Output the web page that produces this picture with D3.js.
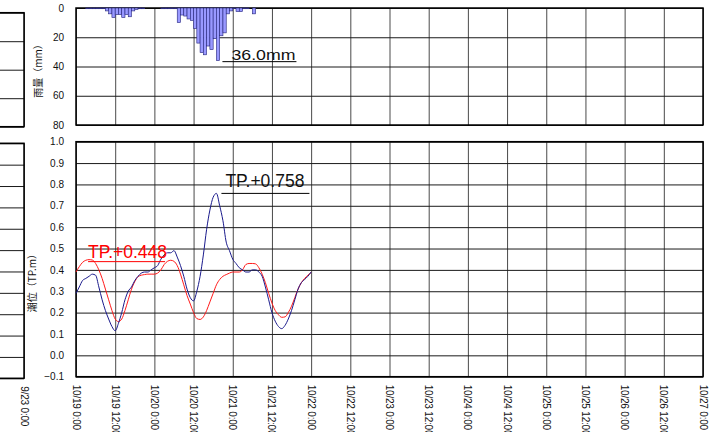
<!DOCTYPE html>
<html>
<head>
<meta charset="utf-8">
<script src="https://cdn.jsdelivr.net/npm/d3@7"></script>
<style>
  body { margin: 0; background: #fff; }
  text { font-family: "Liberation Sans", Arial, sans-serif; fill: #111; }
  .jp { font-family: "Noto Sans CJK JP", sans-serif; }
</style>
</head>
<body>
<div id="chart"></div>
<script>
// period shown on the main chart, hourly data from 10/19 0:00
var startTime = new Date(2021, 9, 19, 0);
var endTime = new Date(2021, 9, 27, 0);

// hourly rainfall (mm), hour 0 = 10/19 0:00
var rainMm = [0, 0, 0, 0.5, 0.5, 0.5, 0.5, 0.5, 0.5,
  2, 4, 6.5, 4.5, 4.5, 6.5, 4.5, 6, 2, 1, 0.5, 0.5,
  0, 0, 0, 0, 0,
  0.5, 0.5, 0.5, 0.5, 0.5,
  10, 4.8, 5.5, 7.5, 8.5, 14, 24, 30.5, 32, 26, 28.5, 21, 36, 19, 17, 4, 2,
  0.5, 2.5, 2.5, 0.5, 0.5, 0, 4];

// observed tide level (TP.m), hourly
var tideObserved = [0.29, 0.32, 0.35, 0.36, 0.37, 0.38, 0.375, 0.32, 0.26, 0.21,
  0.17, 0.135, 0.115, 0.15, 0.2, 0.26, 0.3, 0.32, 0.35, 0.37,
  0.385, 0.39, 0.39, 0.40, 0.41, 0.42, 0.45, 0.47, 0.48, 0.48,
  0.49, 0.46, 0.42, 0.37, 0.31, 0.27, 0.255, 0.30, 0.37, 0.47,
  0.59, 0.68, 0.74, 0.758, 0.70, 0.63, 0.53, 0.49, 0.45, 0.43,
  0.41, 0.40, 0.39, 0.39, 0.40, 0.40, 0.39, 0.37, 0.32, 0.26,
  0.20, 0.16, 0.135, 0.125, 0.14, 0.17, 0.21, 0.26, 0.31, 0.34,
  0.355, 0.37, 0.39];

// astronomical (predicted) tide level (TP.m), hourly
var tidePredicted = [0.39, 0.415, 0.435, 0.445, 0.448, 0.446, 0.43, 0.40, 0.36, 0.31,
  0.26, 0.21, 0.17, 0.158, 0.17, 0.21, 0.26, 0.31, 0.345, 0.368,
  0.375, 0.378, 0.38, 0.38, 0.38, 0.385, 0.40, 0.425, 0.44, 0.445,
  0.44, 0.42, 0.38, 0.33, 0.28, 0.24, 0.20, 0.172, 0.168, 0.18,
  0.21, 0.25, 0.29, 0.33, 0.355, 0.37, 0.378, 0.385, 0.39, 0.39,
  0.39, 0.40, 0.425, 0.43, 0.43, 0.428, 0.41, 0.38, 0.34, 0.29,
  0.245, 0.21, 0.19, 0.178, 0.18, 0.20, 0.23, 0.27, 0.31, 0.34,
  0.36, 0.375, 0.388];

var rainTicks = [0, 20, 40, 60, 80];
var tideTicks = [-0.1, 0, 0.1, 0.2, 0.3, 0.4, 0.5, 0.6, 0.7, 0.8, 0.9, 1.0];

var svgWidth = 716;
var svgHeight = 432;

var svg = d3.select("#chart")
  .append("svg")
  .attr("width", svgWidth)
  .attr("height", svgHeight);

var hourTime = function(i) { return d3.timeHour.offset(startTime, i); };
var fmtTick = d3.timeFormat("%-m/%-d %-H:%M");

// draw the grid, frame and axis labels of one chart
function drawFrame(box, period) {
  var x = d3.scaleTime().domain(period).range([box.left, box.right]);
  var yRain = d3.scaleLinear().domain([0, 80]).range([box.rainTop, box.rainBottom]);
  var yTide = d3.scaleLinear().domain([-0.1, 1.0]).range([box.tideBottom, box.tideTop]);
  var xTicks = d3.timeHour.every(12).range(period[0], d3.timeMinute.offset(period[1], 1));
  var w = box.right - box.left;

  [[box.rainTop, box.rainBottom], [box.tideTop, box.tideBottom]].forEach(function(p) {
    svg.append("g")
      .attr("transform", `translate(0, ${p[1]})`)
      .call(d3.axisBottom(x).tickValues(xTicks).tickSize(-(p[1] - p[0])).tickFormat(""))
      .call(g => g.select(".domain").remove())
      .call(g => g.selectAll("line").attr("stroke", "#4a4a4a"));
  });

  // value labels only where the chart's left side is in view
  var fmtRain = box.left > 0 ? d3.format("d") : () => "";
  var fmtTide = box.left > 0 ? d3.format(".1f") : () => "";

  svg.append("g")
    .attr("transform", `translate(${box.left}, 0)`)
    .call(d3.axisLeft(yRain).tickValues(rainTicks).tickSize(-w).tickPadding(12).tickFormat(fmtRain))
    .call(g => g.select(".domain").remove())
    .call(g => g.selectAll("line").attr("stroke", "#1a1a1a"))
    .call(g => g.selectAll("text").attr("font-size", 10).attr("fill", "#111")
      .style("font-family", "'Liberation Sans', Arial, sans-serif"));

  svg.append("g")
    .attr("transform", `translate(${box.left}, 0)`)
    .call(d3.axisLeft(yTide).tickValues(tideTicks).tickSize(-w).tickPadding(12).tickFormat(fmtTide))
    .call(g => g.select(".domain").remove())
    .call(g => g.selectAll("line").attr("stroke", "#1a1a1a"))
    .call(g => g.selectAll("text").attr("font-size", 10).attr("fill", "#111")
      .style("font-family", "'Liberation Sans', Arial, sans-serif"));

  // frames
  svg.append("rect")
    .attr("x", box.left).attr("y", box.rainTop)
    .attr("width", w).attr("height", box.rainBottom - box.rainTop)
    .attr("fill", "none").attr("stroke", "#000").attr("stroke-width", 1.5);
  svg.append("rect")
    .attr("x", box.left).attr("y", box.tideTop)
    .attr("width", w).attr("height", box.tideBottom - box.tideTop)
    .attr("fill", "none").attr("stroke", "#000").attr("stroke-width", 1.5);

  // rotated time labels, reading downwards
  svg.append("g").selectAll("text")
    .data(xTicks.filter(d => x(d) > 0 && x(d) < svgWidth))
    .join("text")
    .attr("transform", d => `translate(${x(d)}, ${box.tideBottom + 8}) rotate(90)`)
    .attr("dy", "0.35em")
    .attr("font-size", 10)
    .attr("letter-spacing", -0.2)
    .text(d => fmtTick(d));

  if (box.left > 0) {
    svg.append("text")
      .attr("class", "jp")
      .attr("transform", `translate(${box.left - 34}, ${(box.rainTop + box.rainBottom) / 2 + 2}) rotate(-90)`)
      .attr("text-anchor", "middle")
      .attr("font-size", 10)
      .text("雨量（mm）");
    svg.append("text")
      .attr("class", "jp")
      .attr("transform", `translate(${box.left - 40}, ${yTide(0.35)}) rotate(-90)`)
      .attr("text-anchor", "middle")
      .attr("font-size", 10)
      .text("潮位（TP.m）");
  }

  return { x: x, yRain: yRain, yTide: yTide };
}

// previous chart, only its right edge is in view
drawFrame({ left: 24 - 627, right: 24, rainTop: 12.7, rainBottom: 126.7, tideTop: 143.3, tideBottom: 378.3 },
  [new Date(2021, 8, 15, 0), new Date(2021, 8, 23, 0)]);

// main chart
var sc = drawFrame({ left: 76, right: 703, rainTop: 8, rainBottom: 125, tideTop: 141.7, tideBottom: 376.7 },
  [startTime, endTime]);
var x = sc.x, yRain = sc.yRain, yTide = sc.yTide;

// rainfall bars hanging from the top
svg.append("g").selectAll("rect")
  .data(rainMm.map((v, i) => ({ time: hourTime(i), v: v })).filter(d => d.v > 0))
  .join("rect")
  .attr("x", d => x(d.time))
  .attr("y", yRain(0))
  .attr("width", d => x(d3.timeHour.offset(d.time, 1)) - x(d.time))
  .attr("height", d => yRain(d.v) - yRain(0))
  .attr("fill", "#9999ff")
  .attr("stroke", "#23237a")
  .attr("stroke-width", 0.6);

// tide lines
var drawLine = d3.line()
  .x((d, i) => x(hourTime(i)))
  .y(d => yTide(d))
  .curve(d3.curveMonotoneX);

svg.append("path")
  .attr("d", drawLine(tidePredicted))
  .attr("fill", "none")
  .attr("stroke", "#ff1a1a")
  .attr("stroke-width", 1);

svg.append("path")
  .attr("d", drawLine(tideObserved))
  .attr("fill", "none")
  .attr("stroke", "#1a1a8c")
  .attr("stroke-width", 1);

// annotations for the maxima
var rainMax = d3.max(rainMm);
var tMax = hourTime(rainMm.indexOf(rainMax));
svg.append("line")
  .attr("x1", x(tMax) + 6).attr("x2", x(tMax) + 80)
  .attr("y1", yRain(rainMax) + 1).attr("y2", yRain(rainMax) + 1)
  .attr("stroke", "#000").attr("stroke-width", 1);
svg.append("text")
  .attr("x", x(tMax) + 15)
  .attr("y", yRain(rainMax) - 0.5)
  .attr("font-size", 15)
  .attr("textLength", 64)
  .attr("lengthAdjust", "spacingAndGlyphs")
  .text(rainMax.toFixed(1) + "mm");

var obsMax = d3.max(tideObserved);
var tObs = hourTime(tideObserved.indexOf(obsMax));
svg.append("line")
  .attr("x1", x(tObs) + 5).attr("x2", x(tObs) + 93)
  .attr("y1", yTide(obsMax)).attr("y2", yTide(obsMax))
  .attr("stroke", "#000").attr("stroke-width", 1);
svg.append("text")
  .attr("x", x(tObs) + 9)
  .attr("y", yTide(obsMax) - 6)
  .attr("font-size", 17.5)
  .text("TP.+" + obsMax.toFixed(3));

var preMax = d3.max(tidePredicted);
var tPre = hourTime(tidePredicted.indexOf(preMax));
svg.append("line")
  .attr("x1", x(tPre) - 1).attr("x2", x(tPre) + 76)
  .attr("y1", yTide(preMax) + 2).attr("y2", yTide(preMax) + 2)
  .attr("stroke", "#ff0000").attr("stroke-width", 1);
svg.append("text")
  .attr("x", x(tPre) - 1)
  .attr("y", yTide(preMax) - 2)
  .attr("font-size", 17.5)
  .style("fill", "#ff0000")
  .text("TP.+" + preMax.toFixed(3));
</script>
</body>
</html>
